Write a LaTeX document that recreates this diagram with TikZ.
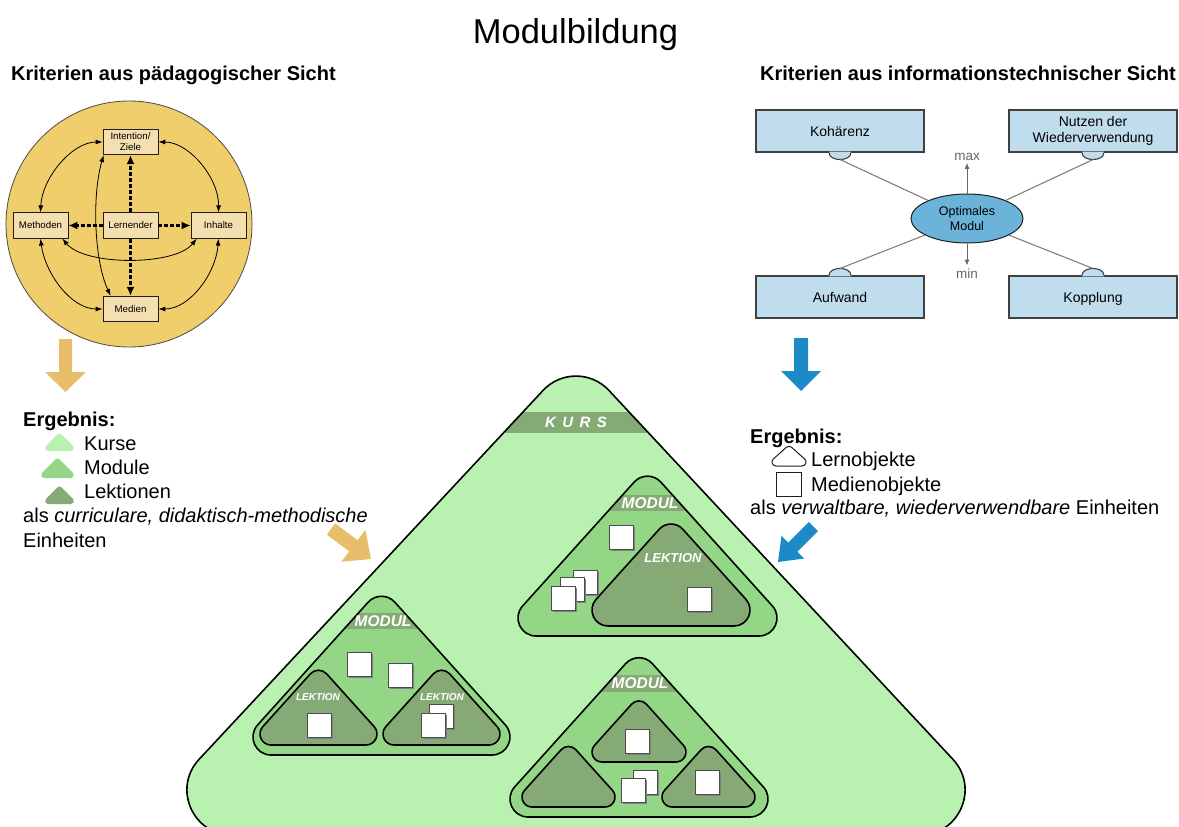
\documentclass[tikz,border=0pt]{standalone}
\usepackage{fontspec}
\setmainfont{Liberation Sans}
\usetikzlibrary{calc,arrows.meta,shapes.geometric}

\definecolor{gold}{HTML}{F0CE6B}
\definecolor{beige}{HTML}{F4DFB0}
\definecolor{goldarrow}{HTML}{E8BE6A}
\definecolor{skyfill}{HTML}{BFDDED}
\definecolor{ovalfill}{HTML}{6CB3D9}
\definecolor{bluearrow}{HTML}{1B8AC7}
\definecolor{kursgreen}{HTML}{B9F2B0}
\definecolor{modgreen}{HTML}{92D686}
\definecolor{lekgreen}{HTML}{86AA76}
\definecolor{edge}{HTML}{1E1E1E}

% rounded triangle: centre x, base y, visible half width, corner radius, base angle
\newcommand\rtriset[5]{%
  \pgfmathsetmacro\rtA{#5}%
  \pgfmathsetmacro\rtdB{#4/tan(\rtA/2)}%
  \pgfmathsetmacro\rtdA{#4*tan(\rtA)}%
  \pgfmathsetmacro\rtkB{4/3*tan((180-\rtA)/4)*#4}%
  \pgfmathsetmacro\rtkA{4/3*tan(\rtA/2)*#4}%
  \pgfmathsetmacro\rthw{#3+\rtdB-#4}%
  \pgfmathsetmacro\rth{\rthw*tan(\rtA)}%
  \coordinate (BL) at ({#1-\rthw},#2);
  \coordinate (AP) at (#1,{#2-\rth});
  \coordinate (BR) at ({#1+\rthw},#2);
  \coordinate (b1) at ($(BL)!\rtdB pt!(BR)$);
  \coordinate (l1) at ($(BL)!\rtdB pt!(AP)$);
  \coordinate (l2) at ($(AP)!\rtdA pt!(BL)$);
  \coordinate (r2) at ($(AP)!\rtdA pt!(BR)$);
  \coordinate (r1) at ($(BR)!\rtdB pt!(AP)$);
  \coordinate (b2) at ($(BR)!\rtdB pt!(BL)$);
  \coordinate (cb1) at ($(b1)!\rtkB pt!(BL)$);
  \coordinate (cl1) at ($(l1)!\rtkB pt!(BL)$);
  \coordinate (cl2) at ($(l2)!\rtkA pt!(AP)$);
  \coordinate (cr2) at ($(r2)!\rtkA pt!(AP)$);
  \coordinate (cr1) at ($(r1)!\rtkB pt!(BR)$);
  \coordinate (cb2) at ($(b2)!\rtkB pt!(BR)$);
}
\newcommand\rtripath{(b1) .. controls (cb1) and (cl1) .. (l1) -- (l2) .. controls (cl2) and (cr2) .. (r2) -- (r1) .. controls (cr1) and (cb2) .. (b2) -- cycle}

% media object: white square with a small shadow
\newcommand\mobj[2]{%
  \fill[black!50] ({#1-12+1.6},{#2-12+1.6}) rectangle ({#1+12+1.6},{#2+12+1.6});
  \filldraw[fill=white,draw=black!70,line width=0.8pt] ({#1-12},{#2-12}) rectangle ({#1+12},{#2+12});
}

% semicircular tab on a criterion box: node, anchor, direction (1 down, -1 up)
\newcommand\tab[3]{%
  \fill[skyfill] ($(#1.#2)+(-11,{-0.9*#3})$) -- ($(#1.#2)+(-11,0)$) .. controls ($(#1.#2)+(-11,{9.3*#3})$) and ($(#1.#2)+(11,{9.3*#3})$) .. ($(#1.#2)+(11,0)$) -- ($(#1.#2)+(11,{-0.9*#3})$) -- cycle;
  \draw[boxline] ($(#1.#2)+(-11,0)$) .. controls ($(#1.#2)+(-11,{9.3*#3})$) and ($(#1.#2)+(11,{9.3*#3})$) .. ($(#1.#2)+(11,0)$);
  \coordinate (#1-tip) at ($(#1.#2)+(0,{7*#3})$);
}

\tikzset{
  t20/.style={font=\fontsize{20}{24}\selectfont, inner sep=0pt},
  t20b/.style={font=\bfseries\fontsize{20}{24}\selectfont, inner sep=0pt},
  cbox/.style={draw=edge, fill=beige, minimum width=55pt, minimum height=25.5pt, inner sep=1pt,
    line width=0.7pt, align=center, font=\fontsize{9.7}{11}\selectfont},
  dasharrow/.style={line width=2.1pt, dash pattern=on 4pt off 2pt, -{Latex[length=9pt,width=8pt]}},
  curvarrow/.style={line width=0.8pt, {Latex[length=7pt,width=5pt]}-{Latex[length=7pt,width=5pt]}},
  boxline/.style={draw=edge!85, line width=1.1pt},
  critbox/.style={boxline, fill=skyfill, minimum width=168pt, minimum height=42pt, inner sep=2pt,
    align=center, font=\fontsize{14}{16.5}\selectfont},
  oneline/.style={text height=10pt, text depth=0pt},
  spoke/.style={draw=black!50, line width=1.1pt},
  grayarrow/.style={draw=black!60, line width=1pt, -{Latex[length=6pt,width=5pt]}, shorten >=1.5pt},
  graylbl/.style={text=black!60, font=\fontsize{13.5}{16}\selectfont, inner sep=1pt},
  outline/.style={draw=black, line width=1.6pt},
  biglbl/.style={text=white, font=\bfseries\itshape\fontsize{15.5}{18}\selectfont, inner sep=0pt},
  smalllbl/.style={text=white, font=\bfseries\itshape\fontsize{#1}{#1}\selectfont, inner sep=0pt},
}

\begin{document}
\begin{tikzpicture}[x=1pt,y=-1pt]
\useasboundingbox (0,0) rectangle (1179,827);

% ---------- title and headings ----------
\node[font=\fontsize{34.5}{40}\selectfont, inner sep=0pt, anchor=base] (title) at (575.5,43) {Modulbildung};
\node[t20b, anchor=base west] (headl) at (11,80) {Kriterien aus pädagogischer Sicht};
\node[t20b, anchor=base east] (headr) at (1176,80) {Kriterien aus informationstechnischer Sicht};

% ---------- didactic criteria ----------
\node[circle, draw=edge!80, line width=0.8pt, fill=gold, minimum size=246pt, inner sep=0pt] (ring) at (129,224) {};
\node[cbox] (ziel) at (130.5,142) {Intention/\\Ziele};
\node[cbox] (meth) at (40.5,225.5) {Methoden};
\node[cbox] (lern) at (130.5,225.5) {Lernender};
\node[cbox] (inh) at (218.5,225.5) {Inhalte};
\node[cbox] (med) at (130.5,309) {Medien};

\draw[dasharrow] (lern) -- (ziel);
\draw[dasharrow] (lern) -- (meth);
\draw[dasharrow] (lern) -- (inh);
\draw[dasharrow] (lern) -- (med);

\draw[curvarrow] (ziel.west) .. controls (72,142) and (42,178) .. (meth.north);
\draw[curvarrow] (ziel.east) .. controls (189,142) and (219,178) .. (inh.north);
\draw[curvarrow] (meth.south) .. controls (45,273) and (71,309) .. (med.west);
\draw[curvarrow] (inh.south) .. controls (216,273) and (190,309) .. (med.east);
\draw[curvarrow] ([xshift=-6pt]meth.south east) .. controls (85,266) and (175,266) .. ([xshift=6pt]inh.south west);
\draw[curvarrow] ([xshift=1pt]ziel.south west) .. controls (92,195) and (94,260) .. ([xshift=8pt]med.north west);

% ---------- technical criteria ----------
\node[critbox, oneline] (koh) at (840,131) {Kohärenz};
\node[critbox] (nutz) at (1093,131) {Nutzen der\\Wiederverwendung};
\node[critbox, oneline] (aufw) at (840,297) {Aufwand};
\node[critbox, oneline] (kopp) at (1093,297) {Kopplung};
\tab{koh}{south}{1}
\tab{nutz}{south}{1}
\tab{aufw}{north}{-1}
\tab{kopp}{north}{-1}

\node[ellipse, draw=edge, line width=1pt, fill=ovalfill, minimum width=112pt, minimum height=49pt,
  inner sep=0pt, align=center, font=\fontsize{12.5}{14.5}\selectfont] (opt) at (967,218.5) {Optimales\\Modul};

\draw[spoke] (koh-tip) -- (opt);
\draw[spoke] (nutz-tip) -- (opt);
\draw[spoke] (aufw-tip) -- (opt);
\draw[spoke] (kopp-tip) -- (opt);

\node[graylbl, anchor=base] (mx) at (967,160) {max};
\node[graylbl, anchor=base] (mn) at (967,278) {min};
\draw[grayarrow] (opt) -- (mx);
\draw[grayarrow] (opt) -- (mn);

% ---------- block arrows ----------
\fill[goldarrow] (59,339) -- (72,339) -- (72,372) -- (86,372) -- (65.5,392) -- (45,372) -- (59,372) -- cycle;
\fill[bluearrow] (794,338) -- (808,338) -- (808,371) -- (821,371) -- (801,391) -- (781,371) -- (794,371) -- cycle;

% ---------- results ----------
\node[t20b, anchor=base west] (erg1) at (23,426) {Ergebnis:};
\rtriset{59.5}{451}{14.5}{3}{45}
\fill[kursgreen] \rtripath;
\rtriset{57.5}{478}{16.5}{3}{45}
\fill[modgreen] \rtripath;
\rtriset{59.5}{504}{14.5}{3}{45}
\fill[lekgreen] \rtripath;
\node[t20, anchor=base west] (kurse) at (84,450) {Kurse};
\node[t20, anchor=base west] (module) at (84,474) {Module};
\node[t20, anchor=base west] (lekt) at (84,498) {Lektionen};
\node[t20, anchor=base west] (als1) at (23,522) {als \textit{curriculare, didaktisch-methodische}};
\node[t20, anchor=base west] (einh1) at (23,547) {Einheiten};

\node[t20b, anchor=base west] (erg2) at (750,443) {Ergebnis:};
\rtriset{789}{466}{17}{4}{42}
\filldraw[fill=white, draw=edge, line width=1pt] \rtripath;
\draw[edge, line width=1pt] (776,472) rectangle (801,496);
\node[t20, anchor=base west] (lo) at (811,466) {Lernobjekte};
\node[t20, anchor=base west] (mo) at (811,491) {Medienobjekte};
\node[t20, anchor=base west] (als2) at (750,514) {als \textit{verwaltbare, wiederverwendbare} Einheiten};

% ---------- course ----------
\rtriset{576}{835}{389}{45}{47}
\fill[kursgreen] \rtripath;
\begin{scope}
  \clip \rtripath;
  \fill[lekgreen] (0,412) rectangle (1179,433);
\end{scope}
\draw[outline] \rtripath;
\node[biglbl, font=\bfseries\itshape\fontsize{15}{18}\selectfont] (kurs) at (576,422.5) {K\hspace{6.5pt}U\hspace{6.5pt}R\hspace{6.5pt}S};

% module, upper right
\rtriset{647.5}{636}{129.5}{18}{48}
\fill[modgreen] \rtripath;
\begin{scope}
  \clip \rtripath;
  \fill[lekgreen] (0,495) rectangle (1179,511);
\end{scope}
\draw[outline] \rtripath;
\node[biglbl] (mod1) at (650,503.5) {MODUL};
\rtriset{671}{626}{79}{16}{48}
\filldraw[fill=lekgreen, outline] \rtripath;
\node[smalllbl=13] (lek1) at (673,558) {LEKTION};
\mobj{621}{537}
\mobj{585}{582}
\mobj{572}{589}
\mobj{563.5}{598.5}
\mobj{699}{599}

% module, left
\rtriset{381.5}{755}{128.5}{18}{48}
\fill[modgreen] \rtripath;
\begin{scope}
  \clip \rtripath;
  \fill[lekgreen] (0,613) rectangle (1179,629);
\end{scope}
\draw[outline] \rtripath;
\node[biglbl] (mod2) at (383,621.5) {MODUL};
\rtriset{318.5}{745}{58.5}{11}{48}
\filldraw[fill=lekgreen, outline] \rtripath;
\rtriset{441.5}{745}{58.5}{11}{48}
\filldraw[fill=lekgreen, outline] \rtripath;
\node[smalllbl=10] (lek2) at (318,697) {LEKTION};
\node[smalllbl=10] (lek3) at (442,697) {LEKTION};
\mobj{359.5}{664}
\mobj{400.5}{675.5}
\mobj{319}{725}
\mobj{441.5}{716.5}
\mobj{433.5}{725.5}

% module, bottom
\rtriset{639}{817}{129}{18}{48}
\fill[modgreen] \rtripath;
\begin{scope}
  \clip \rtripath;
  \fill[lekgreen] (0,675) rectangle (1179,692);
\end{scope}
\draw[outline] \rtripath;
\node[biglbl] (mod3) at (640,683.5) {MODUL};
\rtriset{639}{762}{47}{10}{48}
\filldraw[fill=lekgreen, outline] \rtripath;
\rtriset{568.5}{807}{46.5}{10}{48}
\filldraw[fill=lekgreen, outline] \rtripath;
\rtriset{708.5}{807}{46.5}{10}{48}
\filldraw[fill=lekgreen, outline] \rtripath;
\mobj{637.5}{741.5}
\mobj{707}{782.5}
\mobj{645.5}{782.5}
\mobj{633.5}{790.5}

% ---------- diagonal block arrows ----------
\fill[goldarrow] (335.2,523.4) -- (357.6,540.2) -- (365.4,529.8) -- (371,559) -- (341.4,561.8) -- (349.2,551.4) -- (326.8,534.6) -- cycle;
\fill[bluearrow] (808.8,522.0) -- (818.0,531.2) -- (797.4,551.8) -- (804.1,558.5) -- (778,562) -- (781.5,535.9) -- (788.2,542.6) -- cycle;
\end{tikzpicture}
\end{document}
